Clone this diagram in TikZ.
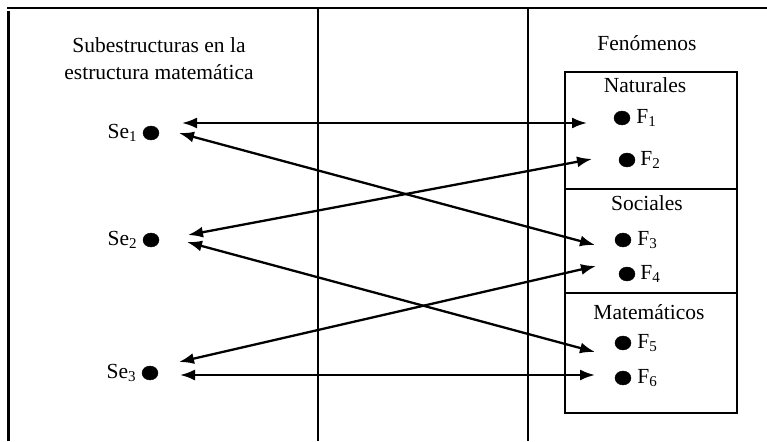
\documentclass[tikz,border=0pt]{standalone}
\usepackage{fontspec}
\setmainfont{Liberation Serif}
\usetikzlibrary{arrows.meta,positioning,shapes.geometric}

\begin{document}
\begin{tikzpicture}[
        x=1pt, y=-1pt,
        font=\fontsize{21.5}{27}\selectfont,
        frame/.style={line width=2.5pt},
        dot/.style={draw, fill=black, ellipse, inner sep=0pt, minimum width=16pt, minimum height=14pt},
        lbl/.style={inner sep=0pt, anchor=west},
        arrow/.style={{Latex[length=15pt,width=11pt]}-{Latex[length=15pt,width=11pt]}, line width=2.3pt}
    ]
        \useasboundingbox (0,0) rectangle (767,441);

        % Table frame
        \draw[frame] (7,8) -- (767,8);
        \draw[frame] (8.5,11) -- (8.5,441);
        \draw[frame] (318,8) -- (318,441);
        \draw[frame] (528,8) -- (528,441);

        % Headers
        \node[align=center] (sub) at (159,59) {Subestructuras en la\\estructura matemática};
        \node (fen) at (647,43) {Fenómenos};

        % Categories box
        \draw[line width=2.3pt] (565,72) rectangle (737,413);
        \draw[line width=2.3pt] (565,189) -- (737,189);
        \draw[line width=2.3pt] (565,293) -- (737,293);
        \node (nat) at (645,85) {Naturales};
        \node (soc) at (647,203) {Sociales};
        \node (mat) at (649,312) {Matemáticos};

        % Substructures
        \node[dot] (se1) at (151,133) {};
        \node[dot] (se2) at (151,240) {};
        \node[dot] (se3) at (150,373) {};
        \node[left=2pt of se1] (se1l) {Se\textsubscript{1}};
        \node[left=2pt of se2] (se2l) {Se\textsubscript{2}};
        \node[left=2pt of se3] (se3l) {Se\textsubscript{3}};

        % Phenomena
        \node[dot] (f1) at (622,118) {};
        \node[dot] (f2) at (627,160) {};
        \node[dot] (f3) at (623,240) {};
        \node[dot] (f4) at (627,274) {};
        \node[dot] (f5) at (623,343) {};
        \node[dot] (f6) at (623,378) {};
        \node[lbl, right=6pt of f1] (f1l) {F\textsubscript{1}};
        \node[lbl, right=5pt of f2] (f2l) {F\textsubscript{2}};
        \node[lbl, right=6pt of f3] (f3l) {F\textsubscript{3}};
        \node[lbl, right=5pt of f4] (f4l) {F\textsubscript{4}};
        \node[lbl, right=6pt of f5] (f5l) {F\textsubscript{5}};
        \node[lbl, right=6pt of f6] (f6l) {F\textsubscript{6}};

        % Arrow ends
        \coordinate (a1) at (182,123);  \coordinate (b1) at (587,123);
        \coordinate (a2) at (179,133);  \coordinate (b2) at (595,245);
        \coordinate (a3) at (188,235);  \coordinate (b3) at (592,159);
        \coordinate (a4) at (187,242);  \coordinate (b4) at (595,352);
        \coordinate (a5) at (179,362);  \coordinate (b5) at (596,266);
        \coordinate (a6) at (180,375);  \coordinate (b6) at (595,375);

        % Arrows
        \draw[arrow] (a1) -- (b1);
        \draw[arrow] (a2) -- (b2);
        \draw[arrow] (a3) -- (b3);
        \draw[arrow] (a4) -- (b4);
        \draw[arrow] (a5) -- (b5);
        \draw[arrow] (a6) -- (b6);

    \end{tikzpicture}
\end{document}
